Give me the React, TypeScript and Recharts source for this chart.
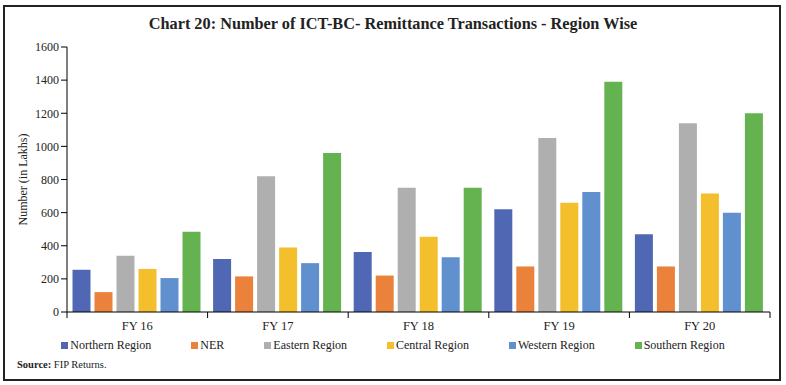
import { BarChart, Bar, XAxis, YAxis } from 'recharts'

const years = ['FY 16', 'FY 17', 'FY 18', 'FY 19', 'FY 20']
const northern = [255, 320, 362, 620, 470]
const ner = [120, 215, 220, 275, 275]
const eastern = [340, 820, 750, 1050, 1140]
const central = [260, 390, 455, 660, 715]
const western = [205, 295, 330, 725, 600]
const southern = [485, 960, 750, 1390, 1200]
const yTicks = [0, 200, 400, 600, 800, 1000, 1200, 1400, 1600]

const series = [
  { key: 'northern', name: 'Northern Region', color: '#5068B3', values: northern },
  { key: 'ner', name: 'NER', color: '#EB823B', values: ner },
  { key: 'eastern', name: 'Eastern Region', color: '#AFAFAF', values: eastern },
  { key: 'central', name: 'Central Region', color: '#F4BF2C', values: central },
  { key: 'western', name: 'Western Region', color: '#6190CE', values: western },
  { key: 'southern', name: 'Southern Region', color: '#65B350', values: southern },
]

const data = years.map((label, i) => {
  const row: { label: string; [key: string]: number | string } = { label }
  series.forEach((s) => {
    row[s.key] = s.values[i]
  })
  return row
})

const FONT = '"Liberation Serif", "DejaVu Serif", serif'
const PLOT_LEFT = 67
const PLOT_RIGHT = 770
const BAND = (PLOT_RIGHT - PLOT_LEFT) / years.length

function CategoryTick(props: any) {
  const { x, y, payload, index } = props
  const left = x - BAND / 2
  return (
    <g>
      <line x1={left} x2={left} y1={y - 8} y2={y - 2} stroke="#000" strokeWidth={1} />
      {index === years.length - 1 && (
        <line x1={left + BAND} x2={left + BAND} y1={y - 8} y2={y - 2} stroke="#000" strokeWidth={1} />
      )}
      <text x={x} y={y + 10} textAnchor="middle" fontSize={12.5} fill="#222" fontFamily={FONT}>
        {payload.value}
      </text>
    </g>
  )
}

function YLabel(props: any) {
  const { viewBox } = props
  const cy = viewBox.y + viewBox.height / 2
  return (
    <text
      x={23}
      y={cy}
      transform={`rotate(-90, 23, ${cy})`}
      textAnchor="middle"
      dominantBaseline="central"
      fontSize={12}
      fill="#222"
      fontFamily={FONT}
    >
      Number (in Lakhs)
    </text>
  )
}

export default function App() {
  return (
    <div
      style={{
        position: 'absolute',
        left: 0,
        top: 0,
        width: 786,
        height: 385,
        background: '#fff',
        fontFamily: FONT,
      }}
    >
      <div
        style={{
          position: 'absolute',
          left: 3,
          top: 5,
          width: 774,
          height: 372,
          border: '2px solid #222',
        }}
      />
      <div
        style={{
          position: 'absolute',
          top: 14,
          left: 0,
          width: 786,
          textAlign: 'center',
          fontSize: 16.3,
          fontWeight: 'bold',
          color: '#222',
        }}
      >
        Chart 20: Number of ICT-BC- Remittance Transactions - Region Wise
      </div>
      <div style={{ position: 'absolute', left: 0, top: 0 }}>
        <BarChart
          width={786}
          height={385}
          data={data}
          margin={{ top: 47, right: 786 - PLOT_RIGHT, left: 0, bottom: 53 }}
          barCategoryGap={5.5}
          barGap={4}
        >
          <XAxis
            dataKey="label"
            height={20}
            axisLine={{ stroke: '#000' }}
            tickLine={false}
            tick={<CategoryTick />}
            interval={0}
          />
          <YAxis
            width={PLOT_LEFT}
            domain={[0, 1600]}
            ticks={yTicks}
            interval={0}
            axisLine={{ stroke: '#000' }}
            tickLine={{ stroke: '#000' }}
            tickSize={6}
            tick={{ fill: '#222', fontSize: 12, fontFamily: FONT }}
            label={<YLabel />}
          />
          {series.map((s) => (
            <Bar key={s.key} dataKey={s.key} name={s.name} fill={s.color} isAnimationActive={false} />
          ))}
        </BarChart>
      </div>
      <div
        style={{
          position: 'absolute',
          top: 338,
          left: 0,
          width: 786,
          display: 'flex',
          justifyContent: 'center',
          gap: 40,
          fontSize: 12,
          color: '#222',
        }}
      >
        {series.map((s) => (
          <div key={s.key} style={{ display: 'flex', alignItems: 'center' }}>
            <span style={{ display: 'inline-block', width: 7, height: 7, background: s.color, marginRight: 2 }} />
            <span>{s.name}</span>
          </div>
        ))}
      </div>
      <div style={{ position: 'absolute', top: 359, left: 17, fontSize: 10.5, color: '#222' }}>
        <b>Source:</b> FIP Returns.
      </div>
    </div>
  )
}
